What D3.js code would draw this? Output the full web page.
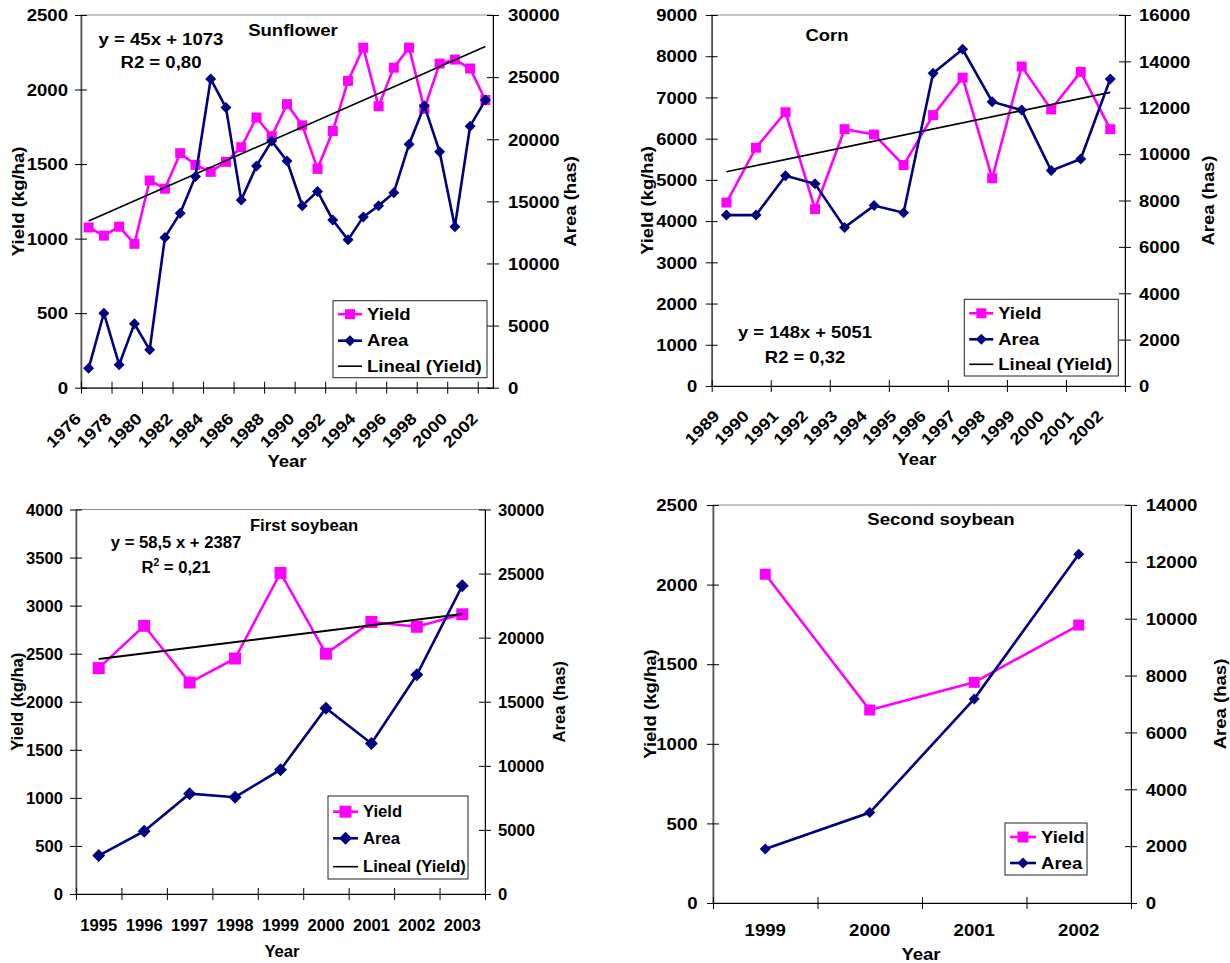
<!DOCTYPE html>
<html>
<head>
<meta charset="utf-8">
<title>Yield and area</title>
<script src="https://cdn.jsdelivr.net/npm/d3@7"></script>
<style>
  html, body { margin: 0; padding: 0; background: #fff; }
  svg text { font-family: "Liberation Sans", Arial, sans-serif; font-weight: bold; fill: #000; }
</style>
</head>
<body>
<svg id="chart" width="1230" height="963"></svg>
<script>

// Sunflower
var sunflowerYears = [1976,1977,1978,1979,1980,1981,1982,1983,1984,1985,1986,1987,1988,1989,
                      1990,1991,1992,1993,1994,1995,1996,1997,1998,1999,2000,2001,2002]
var sunflowerYield = [1075,1020,1080,965,1390,1335,1573,1495,1448,1515,1613,1812,1687,1902,
                      1760,1468,1722,2058,2281,1888,2147,2281,1870,2174,2201,2141,1930]
var sunflowerArea = [1560,6000,1850,5150,3050,12100,14050,17000,24850,22550,15100,17850,19850,18250,
                     14650,15800,13500,11900,13750,14650,15700,19600,22700,19000,12950,21050,23150]
var sunflowerTrend = {slope: 45, intercept: 1073}
var sunflowerYieldTicks = [0,500,1000,1500,2000,2500]
var sunflowerAreaTicks = [0,5000,10000,15000,20000,25000,30000]

// Corn
var cornYears = [1989,1990,1991,1992,1993,1994,1995,1996,1997,1998,1999,2000,2001,2002]
var cornYield = [4450,5780,6640,4290,6230,6100,5360,6570,7480,5040,7750,6710,7620,6230]
var cornArea = [7370,7370,9070,8720,6840,7780,7470,13490,14520,12260,11900,9290,9790,13240]
var cornTrend = {slope: 148, intercept: 5051}
var cornYieldTicks = [0,1000,2000,3000,4000,5000,6000,7000,8000,9000]
var cornAreaTicks = [0,2000,4000,6000,8000,10000,12000,14000,16000]

// First soybean
var soyYears = [1995,1996,1997,1998,1999,2000,2001,2002,2003]
var soyYield = [2350,2790,2200,2450,3340,2500,2830,2780,2910]
var soyArea = [3000,4900,7830,7550,9700,14500,11750,17100,24050]
var soyTrend = {slope: 58.5, intercept: 2387}
var soyYieldTicks = [0,500,1000,1500,2000,2500,3000,3500,4000]
var soyAreaTicks = [0,5000,10000,15000,20000,25000,30000]

// Second soybean
var soy2Years = [1999,2000,2001,2002]
var soy2Yield = [2065,1212,1386,1746]
var soy2Area = [1900,3180,7180,12270]
var soy2YieldTicks = [0,500,1000,1500,2000,2500]
var soy2AreaTicks = [0,2000,4000,6000,8000,10000,12000,14000]

var YIELD_COLOR = '#ff00ff'
var AREA_COLOR = '#000080'

var svg = d3.select('#chart')
svg.append('rect').attr('width', 1230).attr('height', 963).attr('fill', '#fff')

// text in the picture is a bit wider than plain Arial, stretch it around its anchor
function stretch(sel, k) {
  sel.each(function() {
    var t = d3.select(this)
    var x = +t.attr('x') || 0, y = +t.attr('y') || 0
    t.attr('transform', 'translate(' + x + ',' + y + ') scale(' + k + ',1) translate(' + (-x) + ',' + (-y) + ')')
  })
}

function label(g, txt, x, y, k, anchor, fs) {
  var t = g.append('text')
    .attr('x', x).attr('y', y)
    .attr('text-anchor', anchor || 'middle')
    .attr('font-size', fs || 16)
    .text(txt)
  stretch(t, k)
  return t
}

function square(g, x, y, s) {
  g.append('rect')
    .attr('x', x - s/2).attr('y', y - s/2)
    .attr('width', s).attr('height', s)
    .attr('fill', YIELD_COLOR)
}

function diamond(g, x, y, r) {
  g.append('path')
    .attr('d', 'M' + x + ',' + (y - r) + 'L' + (x + r) + ',' + y + 'L' + x + ',' + (y + r) + 'L' + (x - r) + ',' + y + 'Z')
    .attr('fill', AREA_COLOR)
}

var plain = function(d) { return String(d) }

function drawPanel(p) {
  var g = svg.append('g')
  var n = p.years.length
  var x = d3.scaleBand().domain(p.years).range([p.left, p.right])
  var xEdge = d3.scaleLinear().domain([0, n]).range([p.left, p.right])
  var cx = function(d) { return x(d) + x.bandwidth() / 2 }
  var yL = d3.scaleLinear().domain([0, d3.max(p.leftTicks)]).range([p.bottom, p.top])
  var yR = d3.scaleLinear().domain([0, d3.max(p.rightTicks)]).range([p.bottom, p.top])

  // plot area frame
  g.append('rect')
    .attr('x', p.left).attr('y', p.top)
    .attr('width', p.right - p.left).attr('height', p.bottom - p.top)
    .attr('fill', 'none').attr('stroke', '#8c8c8c').attr('stroke-width', 1)

  // left axis
  var axL = g.append('g')
    .attr('transform', 'translate(' + p.left + ',0)')
    .call(d3.axisLeft(yL).tickValues(p.leftTicks).tickFormat(plain).tickSizeInner(6).tickSizeOuter(0))
    .attr('font-size', 16)
  axL.select('.domain').attr('stroke', '#555').attr('stroke-width', 1.6)
  axL.selectAll('.tick line').attr('x1', 6)
  axL.selectAll('.tick text').attr('x', -p.padL).attr('dy', '0.36em')
  stretch(axL.selectAll('.tick text'), p.k)

  // right axis
  var axR = g.append('g')
    .attr('transform', 'translate(' + p.right + ',0)')
    .call(d3.axisRight(yR).tickValues(p.rightTicks).tickFormat(plain).tickSizeInner(6).tickSizeOuter(0))
    .attr('font-size', 16)
  axR.selectAll('.tick line').attr('x1', -6)
  axR.selectAll('.tick text').attr('x', p.padR).attr('dy', '0.36em')
  stretch(axR.selectAll('.tick text'), p.k)

  // bottom axis, marks on category edges
  var edges = d3.range(0, n + 1, p.tickStep)
  var axB = g.append('g')
    .attr('transform', 'translate(0,' + p.bottom + ')')
    .call(d3.axisBottom(xEdge).tickValues(edges).tickSizeInner(6).tickSizeOuter(0).tickFormat(''))
  axB.selectAll('.tick line').attr('y1', -6)

  // category labels
  p.years.forEach(function(yr, i) {
    if (p.labelMode == 'edge') {
      if (i % 2 != 0) return
      var ax = xEdge(i) + 1, ay = p.bottom + 32
      g.append('text').attr('text-anchor', 'end').attr('font-size', 16)
        .attr('transform', 'translate(' + ax + ',' + ay + ') rotate(-45) scale(' + p.k + ',1)')
        .text(yr)
    } else if (p.labelMode == 'center') {
      var ax2 = cx(yr) - 6, ay2 = p.bottom + 31
      g.append('text').attr('text-anchor', 'end').attr('font-size', 16)
        .attr('transform', 'translate(' + ax2 + ',' + ay2 + ') rotate(-45) scale(' + p.k + ',1)')
        .text(yr)
    } else {
      label(g, yr, cx(yr), p.catY, p.k)
    }
  })

  // yield series
  var lineL = d3.line().x(function(d) { return cx(d.year) }).y(function(d) { return yL(d.v) })
  var lineR = d3.line().x(function(d) { return cx(d.year) }).y(function(d) { return yR(d.v) })
  var yieldPts = p.years.map(function(yr, i) { return {year: yr, v: p.yield[i]} })
  var areaPts = p.years.map(function(yr, i) { return {year: yr, v: p.area[i]} })

  g.append('path').attr('d', lineL(yieldPts))
    .attr('fill', 'none').attr('stroke', YIELD_COLOR).attr('stroke-width', 2.6)
  yieldPts.forEach(function(d) { square(g, cx(d.year), yL(d.v), p.sq) })

  // trend line
  if (p.trend) {
    var tr = [
      {year: p.years[0], v: p.trend.intercept + p.trend.slope * 1},
      {year: p.years[n - 1], v: p.trend.intercept + p.trend.slope * n}
    ]
    g.append('path').attr('d', lineL(tr))
      .attr('fill', 'none').attr('stroke', '#000').attr('stroke-width', p.trendW)
  }

  // area series
  g.append('path').attr('d', lineR(areaPts))
    .attr('fill', 'none').attr('stroke', AREA_COLOR).attr('stroke-width', 2.6)
  areaPts.forEach(function(d) { diamond(g, cx(d.year), yR(d.v), p.dm) })

  // titles
  label(g, p.title, p.titleX, p.titleY, p.k)
  if (p.eq) {
    label(g, p.eq, p.eqX, p.eqY, p.k)
    var r2 = g.append('text').attr('x', p.eqX).attr('y', p.r2Y)
      .attr('text-anchor', 'middle').attr('font-size', 16)
    if (p.r2sup) {
      r2.append('tspan').text('R')
      r2.append('tspan').attr('font-size', 10).attr('dy', -7).text('2')
      r2.append('tspan').attr('dy', 7).text(' = ' + p.r2)
    } else {
      r2.text('R2 = ' + p.r2)
    }
    stretch(r2, p.k)
  }

  g.append('text').attr('text-anchor', 'middle').attr('font-size', 16)
    .attr('transform', 'translate(' + p.yTitleX + ',' + (p.top + p.bottom) / 2 + ') rotate(-90) scale(' + p.k + ',1)')
    .text('Yield (kg/ha)')
  g.append('text').attr('text-anchor', 'middle').attr('font-size', 16)
    .attr('transform', 'translate(' + p.aTitleX + ',' + (p.top + p.bottom) / 2 + ') rotate(-90) scale(' + p.k + ',1)')
    .text('Area (has)')
  label(g, 'Year', p.xTitleX, p.xTitleY, p.k)

  // legend
  var lg = p.legend
  g.append('rect').attr('x', lg.x).attr('y', lg.y).attr('width', lg.w).attr('height', lg.h)
    .attr('fill', '#fff').attr('stroke', '#222').attr('stroke-width', 1)
  var items = [{name: 'Yield', kind: 'yield'}, {name: 'Area', kind: 'area'}]
  if (p.trend) items.push({name: 'Lineal (Yield)', kind: 'trend'})
  items.forEach(function(it, i) {
    var ry = lg.y + lg.rows[i]
    var x1 = lg.x + 5, x2 = lg.x + lg.sym
    var col = it.kind == 'yield' ? YIELD_COLOR : it.kind == 'area' ? AREA_COLOR : '#000'
    g.append('line').attr('x1', x1).attr('x2', x2).attr('y1', ry).attr('y2', ry)
      .attr('stroke', col).attr('stroke-width', it.kind == 'trend' ? 1.6 : 2.6)
    if (it.kind == 'yield') square(g, (x1 + x2) / 2, ry, p.sq)
    if (it.kind == 'area') diamond(g, (x1 + x2) / 2, ry, p.dm)
    var t = g.append('text').attr('x', lg.x + lg.sym + 5).attr('y', ry).attr('dy', '0.36em')
      .attr('font-size', 16).text(it.name)
    stretch(t, p.k)
  })
}

drawPanel({
  title: 'Sunflower', titleX: 293, titleY: 36,
  eq: 'y = 45x + 1073', eqX: 161, eqY: 45, r2: '0,80', r2Y: 68,
  years: sunflowerYears, yield: sunflowerYield, area: sunflowerArea, trend: sunflowerTrend,
  leftTicks: sunflowerYieldTicks, rightTicks: sunflowerAreaTicks,
  left: 81, right: 493, top: 15, bottom: 387.7,
  padL: 13, padR: 15, k: 1.16, tickStep: 2, labelMode: 'edge',
  sq: 10, dm: 5.5, trendW: 1.6,
  yTitleX: 24, aTitleX: 576, xTitleX: 287, xTitleY: 467,
  legend: {x: 333, y: 300.7, w: 154, h: 77, rows: [13.5, 40, 65.5], sym: 29}
})

drawPanel({
  title: 'Corn', titleX: 827, titleY: 41,
  eq: 'y = 148x + 5051', eqX: 805, eqY: 338, r2: '0,32', r2Y: 363,
  years: cornYears, yield: cornYield, area: cornArea, trend: cornTrend,
  leftTicks: cornYieldTicks, rightTicks: cornAreaTicks,
  left: 711.7, right: 1125, top: 15, bottom: 386,
  padL: 14.5, padR: 14, k: 1.15, tickStep: 2, labelMode: 'center',
  sq: 10, dm: 5.5, trendW: 1.6,
  yTitleX: 653, aTitleX: 1214, xTitleX: 917, xTitleY: 465,
  legend: {x: 964.3, y: 299.3, w: 154, h: 76.7, rows: [14, 40, 65], sym: 29}
})

drawPanel({
  title: 'First soybean', titleX: 304, titleY: 531,
  eq: 'y = 58,5 x + 2387', eqX: 176, eqY: 548, r2: '0,21', r2Y: 573, r2sup: true,
  years: soyYears, yield: soyYield, area: soyArea, trend: soyTrend,
  leftTicks: soyYieldTicks, rightTicks: soyAreaTicks,
  left: 76, right: 485, top: 509.5, bottom: 894,
  padL: 13, padR: 13, k: 1.04, tickStep: 1, labelMode: 'flat', catY: 931,
  sq: 12, dm: 6.5, trendW: 2,
  yTitleX: 23, aTitleX: 565, xTitleX: 282, xTitleY: 957,
  legend: {x: 328, y: 796, w: 140, h: 83, rows: [15.7, 42.3, 70.7], sym: 30}
})

drawPanel({
  title: 'Second soybean', titleX: 941, titleY: 525,
  years: soy2Years, yield: soy2Yield, area: soy2Area,
  leftTicks: soy2YieldTicks, rightTicks: soy2AreaTicks,
  left: 713, right: 1131, top: 505, bottom: 903,
  padL: 15.5, padR: 14.7, k: 1.16, tickStep: 1, labelMode: 'flat', catY: 936,
  sq: 11, dm: 5.5, trendW: 1.6,
  yTitleX: 656, aTitleX: 1226, xTitleX: 921, xTitleY: 960,
  legend: {x: 1005, y: 823, w: 82, h: 52, rows: [14, 40], sym: 31}
})

</script>
</body>
</html>
